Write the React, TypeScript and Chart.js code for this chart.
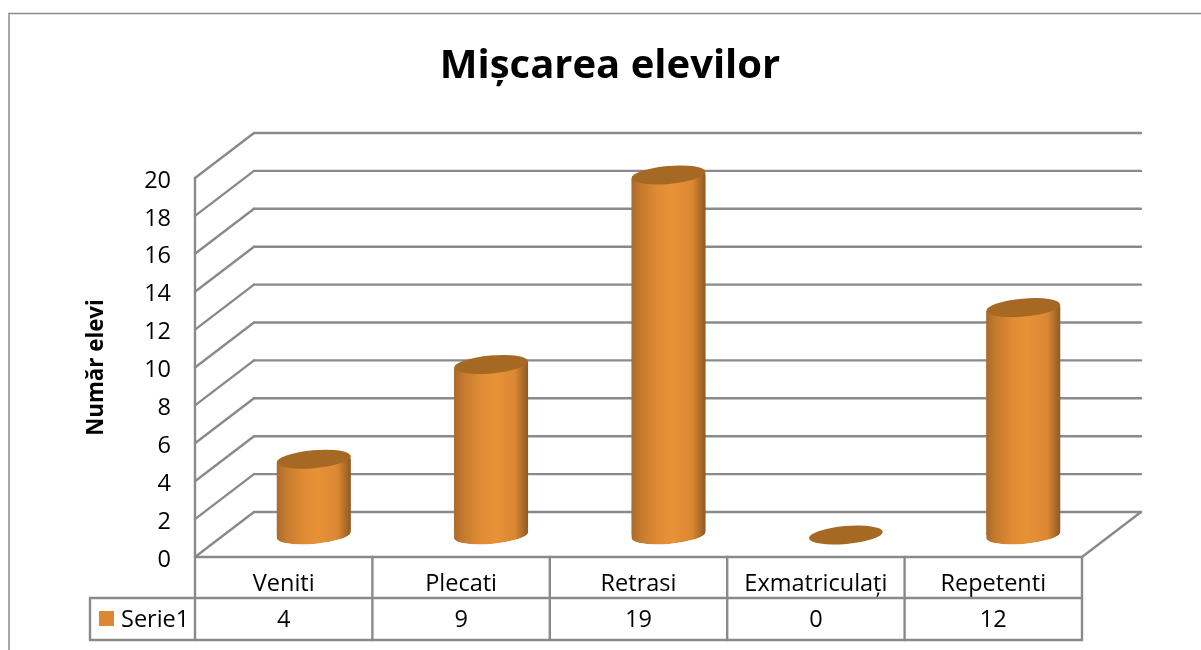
import React, { useEffect, useRef } from "react";
import { Chart, registerables } from "chart.js";

Chart.register(...registerables);

const chartTitle = "Mișcarea elevilor";
const yAxisTitle = "Număr elevi";
const seriesName = "Serie1";
const categories = ["Veniti", "Plecati", "Retrasi", "Exmatriculați", "Repetenti"];
const values = [4, 9, 19, 0, 12];

const FONT = '"Open Sans", "Noto Sans", sans-serif';
const LABEL_SIZE = 23.5;
const LINE = "#8a8a8a";
const DX = 59; // back wall depth, x
const DY = 45; // back wall depth, y
const BAR_DX = 30; // bars stand mid-floor
const BAR_DY = 22;
const RX = 37;
const RY = 9;
const TILT = (-5 * Math.PI) / 180;
const SKEW = RX * Math.sin(-TILT) + 0.2;

function seg(ctx: CanvasRenderingContext2D, x1: number, y1: number, x2: number, y2: number) {
  ctx.beginPath();
  ctx.moveTo(x1, y1);
  ctx.lineTo(x2, y2);
  ctx.stroke();
}

const scenePlugin = {
  id: "scene",
  afterLayout(chart: any) {
    // the title is centred on the outer frame
    chart.titleBlock.left = 9;
    chart.titleBlock.right = 1211;
  },
  beforeDatasetsDraw(chart: any) {
    const { ctx, scales } = chart;
    const x = scales.x;
    const y = scales.y;
    ctx.save();
    ctx.strokeStyle = LINE;
    ctx.lineCap = "round";
    ctx.lineJoin = "round";
    // outer frame
    ctx.lineWidth = 1.5;
    seg(ctx, 9, 650, 9, 13.5);
    seg(ctx, 9, 13.5, 1201, 13.5);
    ctx.lineWidth = 2.4;
    // walls and floor
    y.ticks.forEach((t: any) => {
      const py = y.getPixelForValue(t.value);
      seg(ctx, x.left, py, x.left + DX, py - DY);
      seg(ctx, x.left + DX, py - DY, x.right + DX, py - DY);
    });
    const p0 = y.getPixelForValue(0);
    seg(ctx, x.left, y.top, x.left, p0);
    seg(ctx, x.left, p0, x.right, p0);
    seg(ctx, x.right, p0, x.right + DX, p0 - DY);
    // data table
    const rowA = 598;
    const rowB = 640;
    const legendLeft = 90;
    seg(ctx, legendLeft, rowA, x.right, rowA);
    seg(ctx, legendLeft, rowB, x.right, rowB);
    seg(ctx, legendLeft, rowA, legendLeft, rowB);
    const colW = (x.right - x.left) / categories.length;
    for (let i = 0; i <= categories.length; i++) {
      seg(ctx, x.left + i * colW, p0, x.left + i * colW, rowB);
    }
    ctx.fillStyle = "#db8733";
    ctx.fillRect(99, 611, 15, 15);
    ctx.fillStyle = "#000";
    ctx.font = `${LABEL_SIZE}px ${FONT}`;
    ctx.textBaseline = "middle";
    ctx.textAlign = "left";
    ctx.fillText(seriesName, 121, 620.5);
    ctx.textAlign = "center";
    values.forEach((v, i) => ctx.fillText(String(v), x.getPixelForValue(i), 620.5));
    ctx.restore();
  },
  beforeDatasetDraw(chart: any, args: any) {
    const { ctx } = chart;
    ctx.save();
    ctx.translate(BAR_DX, -BAR_DY);
    // clip each bar to a cylinder outline
    ctx.beginPath();
    args.meta.data.forEach((bar: any) => {
      if (bar.base - bar.y < 1) return;
      ctx.moveTo(bar.x - RX, bar.y + SKEW);
      ctx.lineTo(bar.x + RX, bar.y - SKEW);
      ctx.lineTo(bar.x + RX, bar.base - SKEW);
      ctx.lineTo(bar.x - RX, bar.base + SKEW);
      ctx.closePath();
      ctx.moveTo(bar.x + RX, bar.base);
      ctx.ellipse(bar.x, bar.base, RX, RY, TILT, 0, Math.PI * 2);
      ctx.closePath();
    });
    ctx.clip();
    // body extension and rounded foot of every cylinder
    args.meta.data.forEach((bar: any) => {
      if (bar.base - bar.y < 1) return;
      ctx.fillStyle = barGradient(ctx, bar.x);
      ctx.fillRect(bar.x - RX, bar.y - SKEW - 1, RX * 2, bar.base - bar.y + 2 * SKEW + 2);
      ctx.beginPath();
      ctx.ellipse(bar.x, bar.base, RX, RY, TILT, 0, Math.PI * 2);
      ctx.fill();
    });
  },
  afterDatasetDraw(chart: any, args: any) {
    const { ctx } = chart;
    ctx.restore();
    ctx.save();
    ctx.translate(BAR_DX, -BAR_DY);
    // top cap of every cylinder
    args.meta.data.forEach((bar: any) => {
      ctx.beginPath();
      ctx.ellipse(bar.x, bar.y, RX, RY, TILT, 0, Math.PI * 2);
      ctx.fillStyle = "#a66923";
      ctx.fill();
    });
    ctx.restore();
  },
};

function barGradient(ctx: CanvasRenderingContext2D, cx: number) {
  const g = ctx.createLinearGradient(cx - RX, 0, cx + RX, 0);
  g.addColorStop(0, "#a86a2c");
  g.addColorStop(0.12, "#c47a2d");
  g.addColorStop(0.35, "#e08b34");
  g.addColorStop(0.55, "#e89238");
  g.addColorStop(0.82, "#db8833");
  g.addColorStop(1, "#8f5a22");
  return g;
}

export default function App() {
  const ref = useRef<HTMLCanvasElement>(null);
  useEffect(() => {
    const chart = new Chart(ref.current as HTMLCanvasElement, {
      type: "bar",
      data: {
        labels: categories,
        datasets: [
          {
            label: seriesName,
            data: values,
            clip: false,
            barThickness: RX * 2,
            borderWidth: 0,
            backgroundColor: (c: any) => {
              const s = c.chart.scales.x;
              const px = s && c.dataIndex !== undefined ? s.getPixelForValue(c.dataIndex) : NaN;
              if (!Number.isFinite(px)) return "#e79036";
              return barGradient(c.chart.ctx, px);
            },
          } as any,
        ],
      },
      options: {
        animation: false,
        responsive: false,
        layout: { padding: { left: 79, right: 119, top: 0, bottom: 52 } },
        plugins: {
          legend: { display: false },
          tooltip: { enabled: false },
          title: {
            display: true,
            text: chartTitle,
            color: "#000",
            font: { family: FONT, size: 40, weight: "bold" },
            padding: { top: 43, bottom: 87 },
          },
        },
        scales: {
          x: {
            grid: { display: false },
            border: { display: false },
            ticks: {
              color: "#000",
              font: { family: FONT, size: LABEL_SIZE },
              padding: 5,
              maxRotation: 0,
              autoSkip: false,
            },
            afterFit: (s: any) => {
              s.height = 41;
            },
          },
          y: {
            min: 0,
            max: 20,
            grid: { display: false },
            border: { display: false },
            title: {
              display: true,
              text: yAxisTitle,
              color: "#000",
              font: { family: FONT, size: 22.3, weight: "bold" },
              padding: { top: 4, bottom: 0 },
            },
            ticks: {
              stepSize: 2,
              color: "#000",
              font: { family: FONT, size: LABEL_SIZE },
              padding: 16,
              labelOffset: 3,
            },
            afterFit: (s: any) => {
              s.width = 116;
            },
          },
        },
      },
      plugins: [scenePlugin],
    } as any);
    return () => chart.destroy();
  }, []);
  return (
    <div style={{ position: "absolute", left: 0, top: 0, width: 1201, height: 650, background: "#fff", overflow: "hidden" }}>
      <canvas ref={ref} width={1201} height={650} style={{ display: "block" }} />
    </div>
  );
}
